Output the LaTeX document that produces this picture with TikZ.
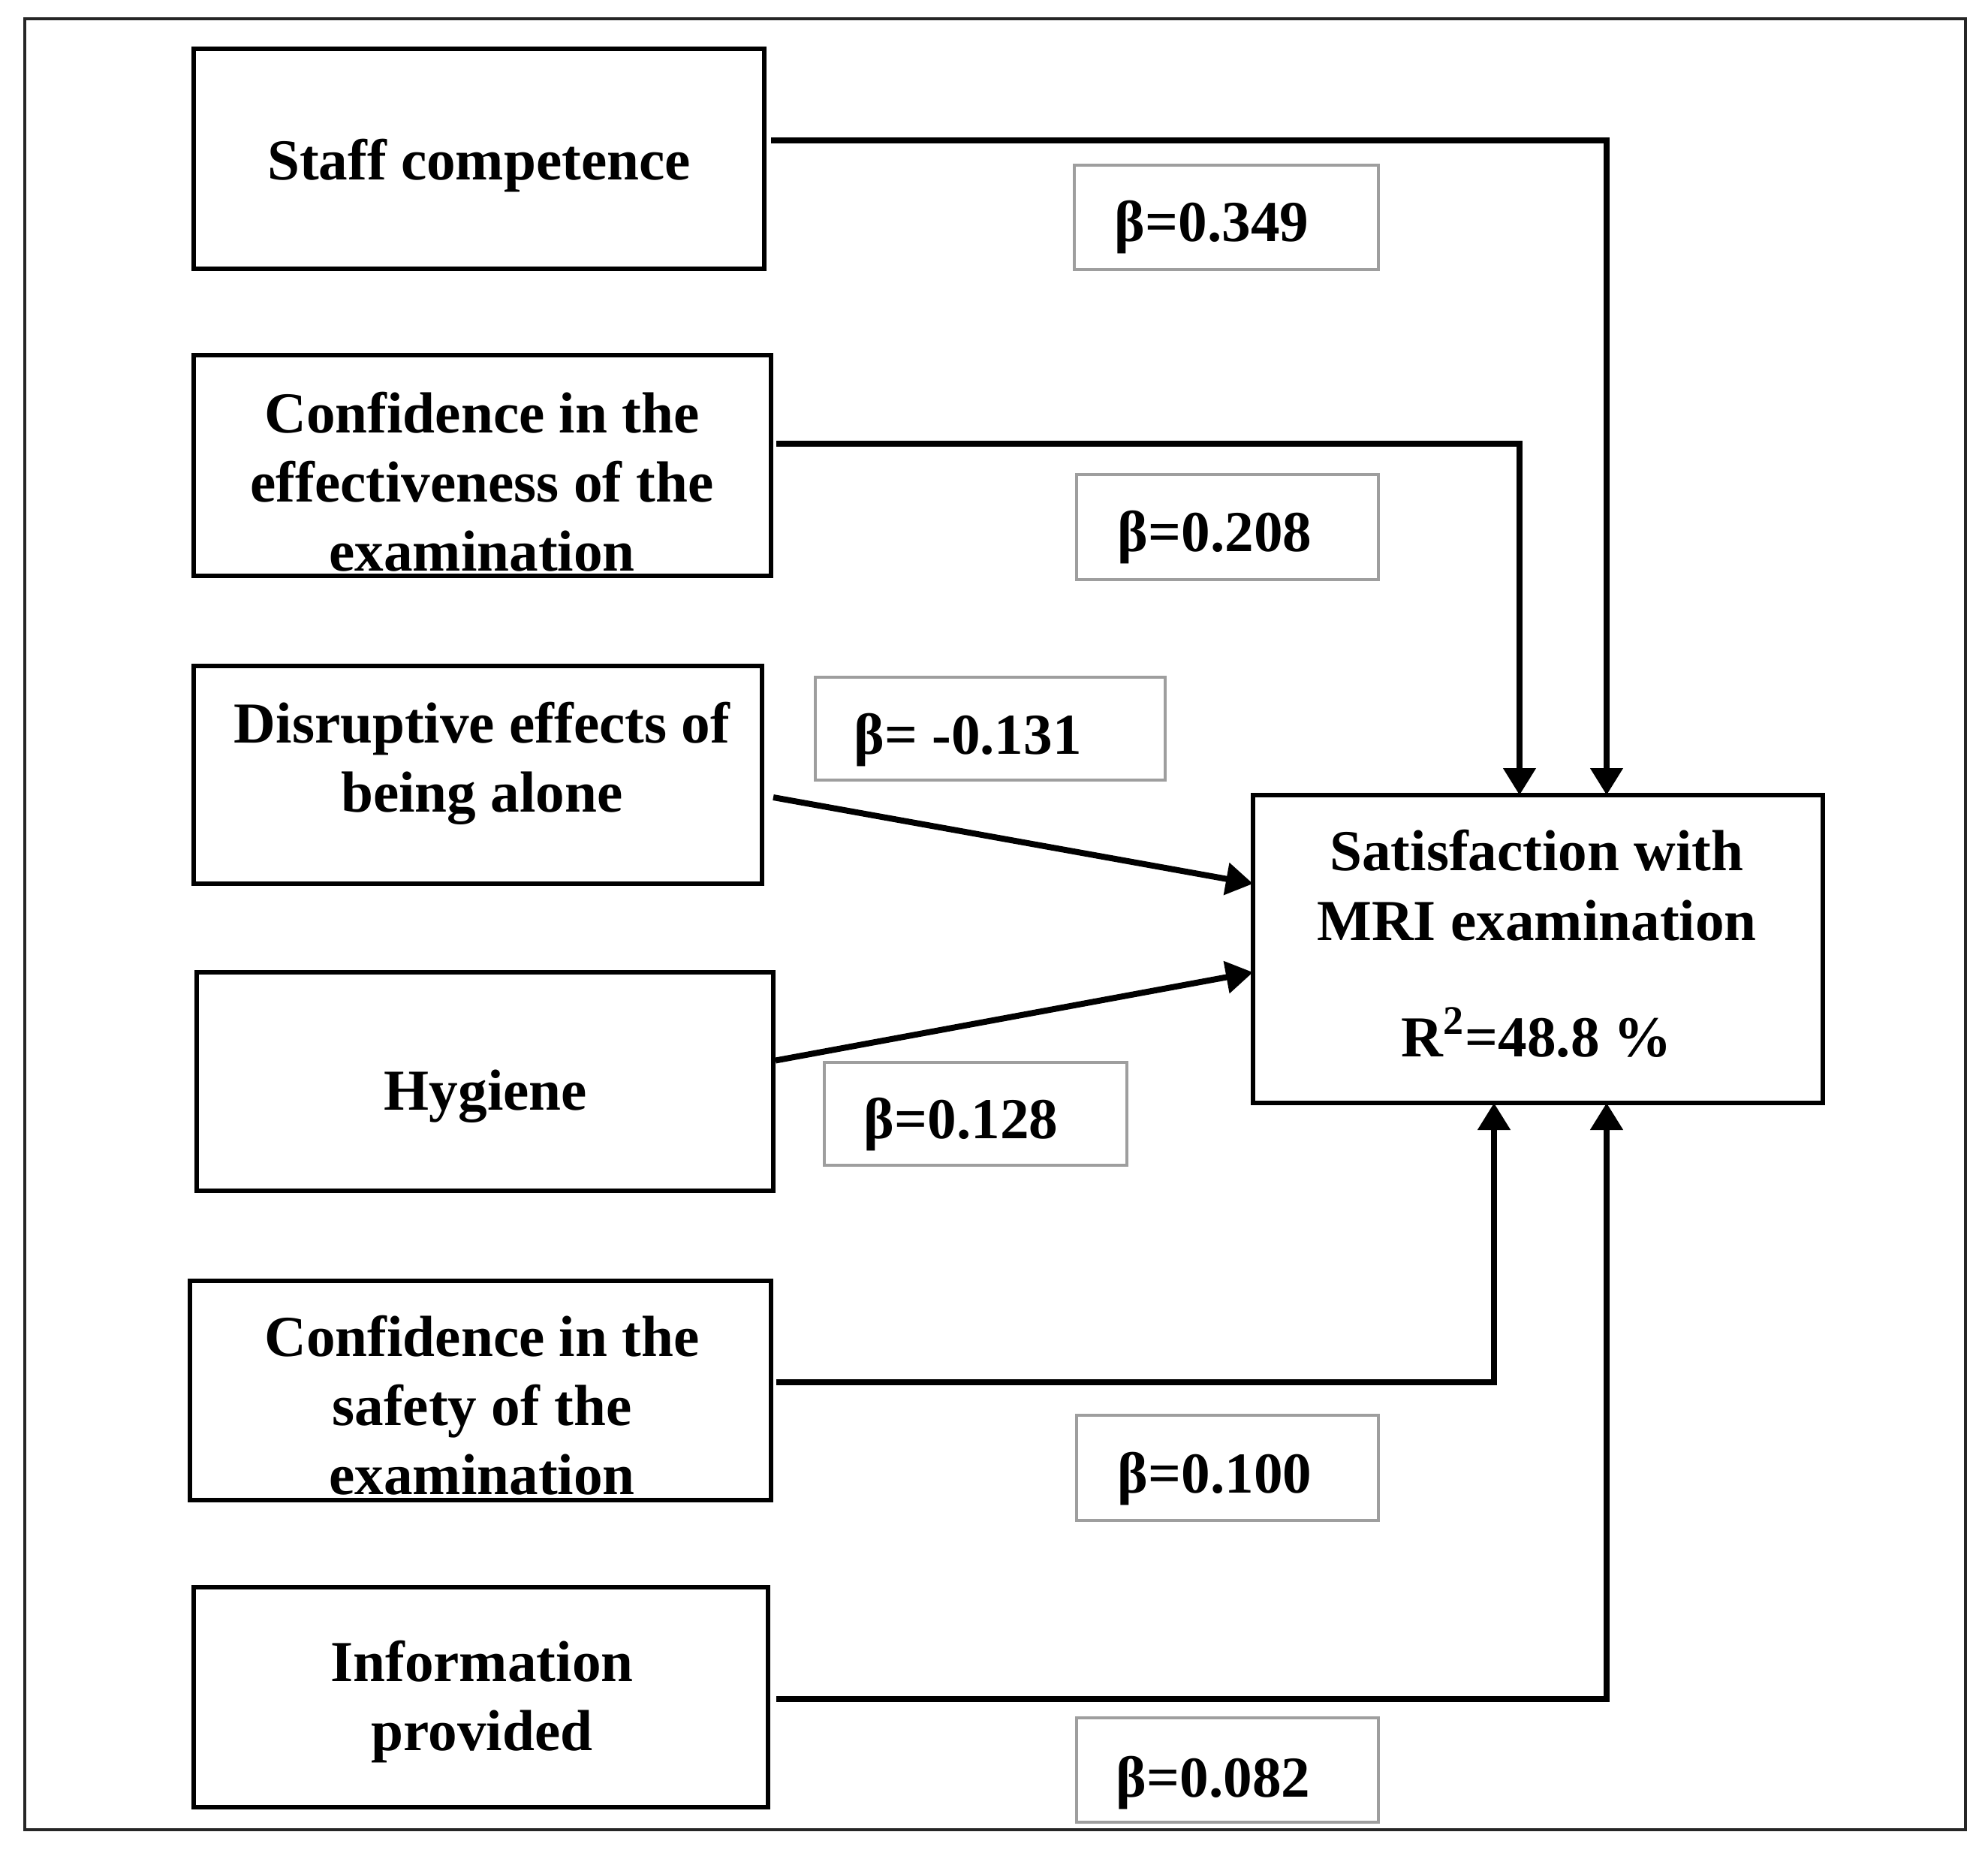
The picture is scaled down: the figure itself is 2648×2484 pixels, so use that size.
\documentclass[tikz,border=0pt]{standalone}
\usepackage{fontspec}
\setmainfont{Liberation Serif}
\usetikzlibrary{arrows.meta}
\newcommand\rbox[6][box]{\node[#1,minimum width={(#5-#3)*0.25pt},minimum height={(#6-#4)*0.25pt}] (#2) at ({(#3+#5)/2},{(#4+#6)/2}) {};}
\begin{document}
\begin{tikzpicture}[x=0.25pt,y=-0.25pt,
  box/.style={draw=black,line width=1.5pt,inner sep=0pt,outer sep=0pt},
  bbox/.style={draw=black!38,line width=1pt,inner sep=0pt,outer sep=0pt},
  lbl/.style={font=\fontsize{19.3}{23}\selectfont\bfseries,align=center,inner sep=0pt},
  conn/.style={line width=2pt,-{Triangle[width=10.5pt,length=9pt]}},
]
\useasboundingbox (0,0) rectangle (2648,2484);
\draw[line width=1pt,draw=black!85] (33,25) rectangle (2618,2437);
% boxes
\rbox{staff}{258}{65}{1018}{358}
\rbox{eff}{258}{473}{1027}{767}
\rbox{dis}{258}{887}{1015}{1177}
\rbox{hyg}{262}{1295}{1030}{1586}
\rbox{saf}{253}{1706}{1027}{1998}
\rbox{inf}{258}{2114}{1023}{2407}
\rbox{sat}{1669}{1059}{2428}{1469}
% beta boxes
\rbox[bbox]{b1}{1431}{220}{1836}{359}
\rbox[bbox]{b2}{1434}{632}{1836}{772}
\rbox[bbox]{b3}{1086}{902}{1552}{1039}
\rbox[bbox]{b4}{1098}{1415}{1501}{1552}
\rbox[bbox]{b5}{1434}{1885}{1836}{2025}
\rbox[bbox]{b6}{1434}{2288}{1836}{2427}
% texts
\node[lbl] (tstaff) at (638,221) {Staff competence};
\node[lbl] (teff) at (642,642) {Confidence in the\\effectiveness of the\\examination};
\node[lbl] (tdis) at (642,1017) {Disruptive effects of\\being alone};
\node[lbl] (thyg) at (647,1460) {Hygiene};
\node[lbl] (tsaf) at (642,1872) {Confidence in the\\safety of the\\examination};
\node[lbl] (tinf) at (642,2267) {Information\\provided};
\node[lbl] (tsat1) at (2047,1133) {Satisfaction with};
\node[lbl] (tsat2) at (2047,1226) {MRI examination};
\node[lbl] (tsat3) at (2047,1375) {R\textsuperscript{2}=48.8 \%};
\node[lbl] (tb1) at (1614,303) {β=0.349};
\node[lbl] (tb2) at (1618,716) {β=0.208};
\node[lbl] (tb3) at (1289,986) {β= -0.131};
\node[lbl] (tb4) at (1280,1498) {β=0.128};
\node[lbl] (tb5) at (1618,1970) {β=0.100};
\node[lbl] (tb6) at (1616,2375) {β=0.082};
% connectors
\draw[conn] ([shift={(9,-25)}]staff.east) -| ([shift={(91.5,0)}]sat.north);
\draw[conn] ([shift={(7,-29)}]eff.east) -| ([shift={(-24.5,0)}]sat.north);
\draw[conn] ([shift={(15,30)}]dis.east) -- ([shift={(0,-87)}]sat.west);
\draw[conn] ([shift={(3,-28)}]hyg.east) -- ([shift={(0,31)}]sat.west);
\draw[conn] ([shift={(7,-11)}]saf.east) -| ([shift={(-58.5,0)}]sat.south);
\draw[conn] ([shift={(11,2.5)}]inf.east) -| ([shift={(91.5,0)}]sat.south);
\end{tikzpicture}
\end{document}
